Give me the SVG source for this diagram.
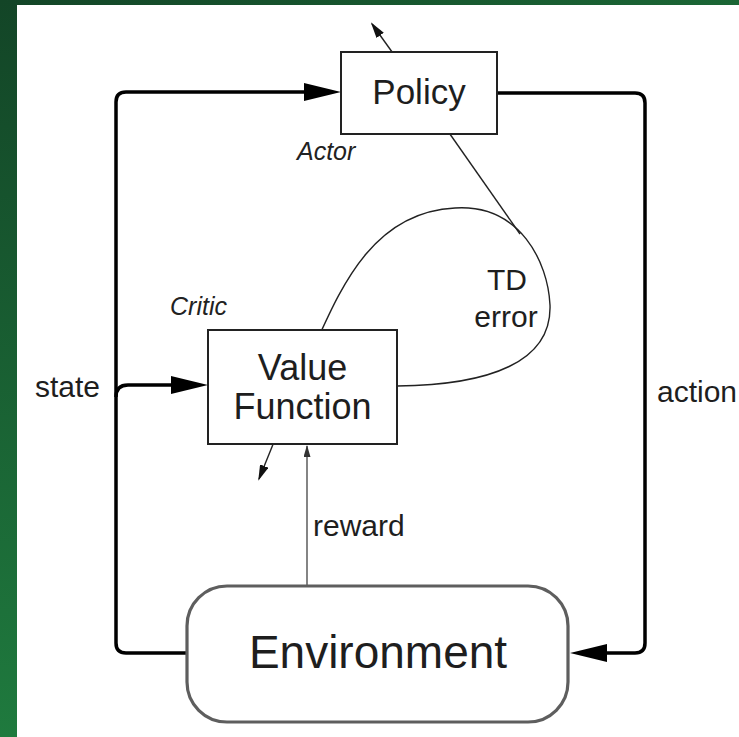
<svg xmlns="http://www.w3.org/2000/svg" width="739" height="737" viewBox="0 0 739 737">
<defs>
<linearGradient id="gLeft" x1="0" y1="0" x2="0" y2="1">
<stop offset="0" stop-color="#134527"/>
<stop offset="1" stop-color="#1f7a3e"/>
</linearGradient>
<linearGradient id="gTop" x1="0" y1="0" x2="1" y2="0">
<stop offset="0" stop-color="#134527"/>
<stop offset="1" stop-color="#1b6635"/>
</linearGradient>
<marker id="big" markerUnits="userSpaceOnUse" markerWidth="37" markerHeight="18" viewBox="0 0 37 18" refX="27" refY="9" orient="auto">
<path d="M0,0 L37,9 L0,18 z" fill="#000"/>
</marker>
<marker id="small" markerUnits="userSpaceOnUse" markerWidth="16" markerHeight="9" viewBox="0 0 16 9" refX="14" refY="4.5" orient="auto">
<path d="M0,0 L16,4.5 L0,9 z" fill="#111"/>
</marker>
<marker id="tiny" markerUnits="userSpaceOnUse" markerWidth="12" markerHeight="7" viewBox="0 0 12 7" refX="11" refY="3.5" orient="auto">
<path d="M0,0 L12,3.5 L0,7 z" fill="#333"/>
</marker>
<style>
.box{fill:#fff;stroke:#222;stroke-width:2}
.env{fill:#fff;stroke:#5e5e5e;stroke-width:3.2}
.main{fill:none;stroke:#000;stroke-width:3.5}
.thin{fill:none;stroke:#222;stroke-width:1.4}
.gray{fill:none;stroke:#666;stroke-width:1.6}
.t{font-family:"Liberation Sans",Arial,sans-serif;fill:#1e1e1e}
.it{font-family:"Liberation Sans",Arial,sans-serif;font-style:italic;fill:#222}
</style>
</defs>
<rect x="0" y="0" width="739" height="737" fill="#fff"/>
<rect x="0" y="0" width="739" height="5" fill="url(#gTop)"/>
<rect x="0" y="0" width="17" height="737" fill="url(#gLeft)"/>

<g id="connectors">
<path class="main" d="M187,653 H126 Q116,653 116,643 V102 Q116,92 126,92 H331" marker-end="url(#big)"/>
<path class="main" d="M116,397 Q116,385 128,385 H198" marker-end="url(#big)"/>
<path class="main" d="M497,93 H635 Q645,93 645,103 V643 Q645,653 635,653 H580" marker-end="url(#big)"/>
<path class="gray" d="M307,586 V446" marker-end="url(#tiny)"/>
<path class="thin" d="M405,70 L372,24" marker-end="url(#small)"/>
<path class="thin" d="M278,432 L259,479" marker-end="url(#small)"/>
<path class="thin" d="M438,117 L520,234"/>
<path class="thin" d="M315,345 C340,290 372,212 455,208 C520,204 548,262 550,305 C552,362 490,385 397,386"/>
</g>

<g id="policy">
<rect class="box" x="341" y="52" width="156" height="82"/>
<text class="t" x="419" y="104" font-size="35" text-anchor="middle">Policy</text>
<text class="it" x="297" y="160" font-size="25">Actor</text>
</g>

<g id="value-function">
<rect class="box" x="208" y="330" width="189" height="114"/>
<text class="t" x="302.5" y="380" font-size="36" text-anchor="middle">Value</text>
<text class="t" x="302.5" y="419" font-size="36" text-anchor="middle">Function</text>
<text class="it" x="170" y="315" font-size="25">Critic</text>
</g>

<g id="environment">
<rect class="env" x="187" y="586" width="381" height="136" rx="40" ry="40"/>
<text class="t" x="378" y="668" font-size="46" text-anchor="middle">Environment</text>
</g>

<g id="labels">
<text class="t" x="100" y="397" font-size="30" text-anchor="end">state</text>
<text class="t" x="657" y="402" font-size="30">action</text>
<text class="t" x="313" y="536" font-size="30">reward</text>
<text class="t" x="507" y="290" font-size="30" text-anchor="middle">TD</text>
<text class="t" x="506" y="327" font-size="30" text-anchor="middle">error</text>
</g>
</svg>
